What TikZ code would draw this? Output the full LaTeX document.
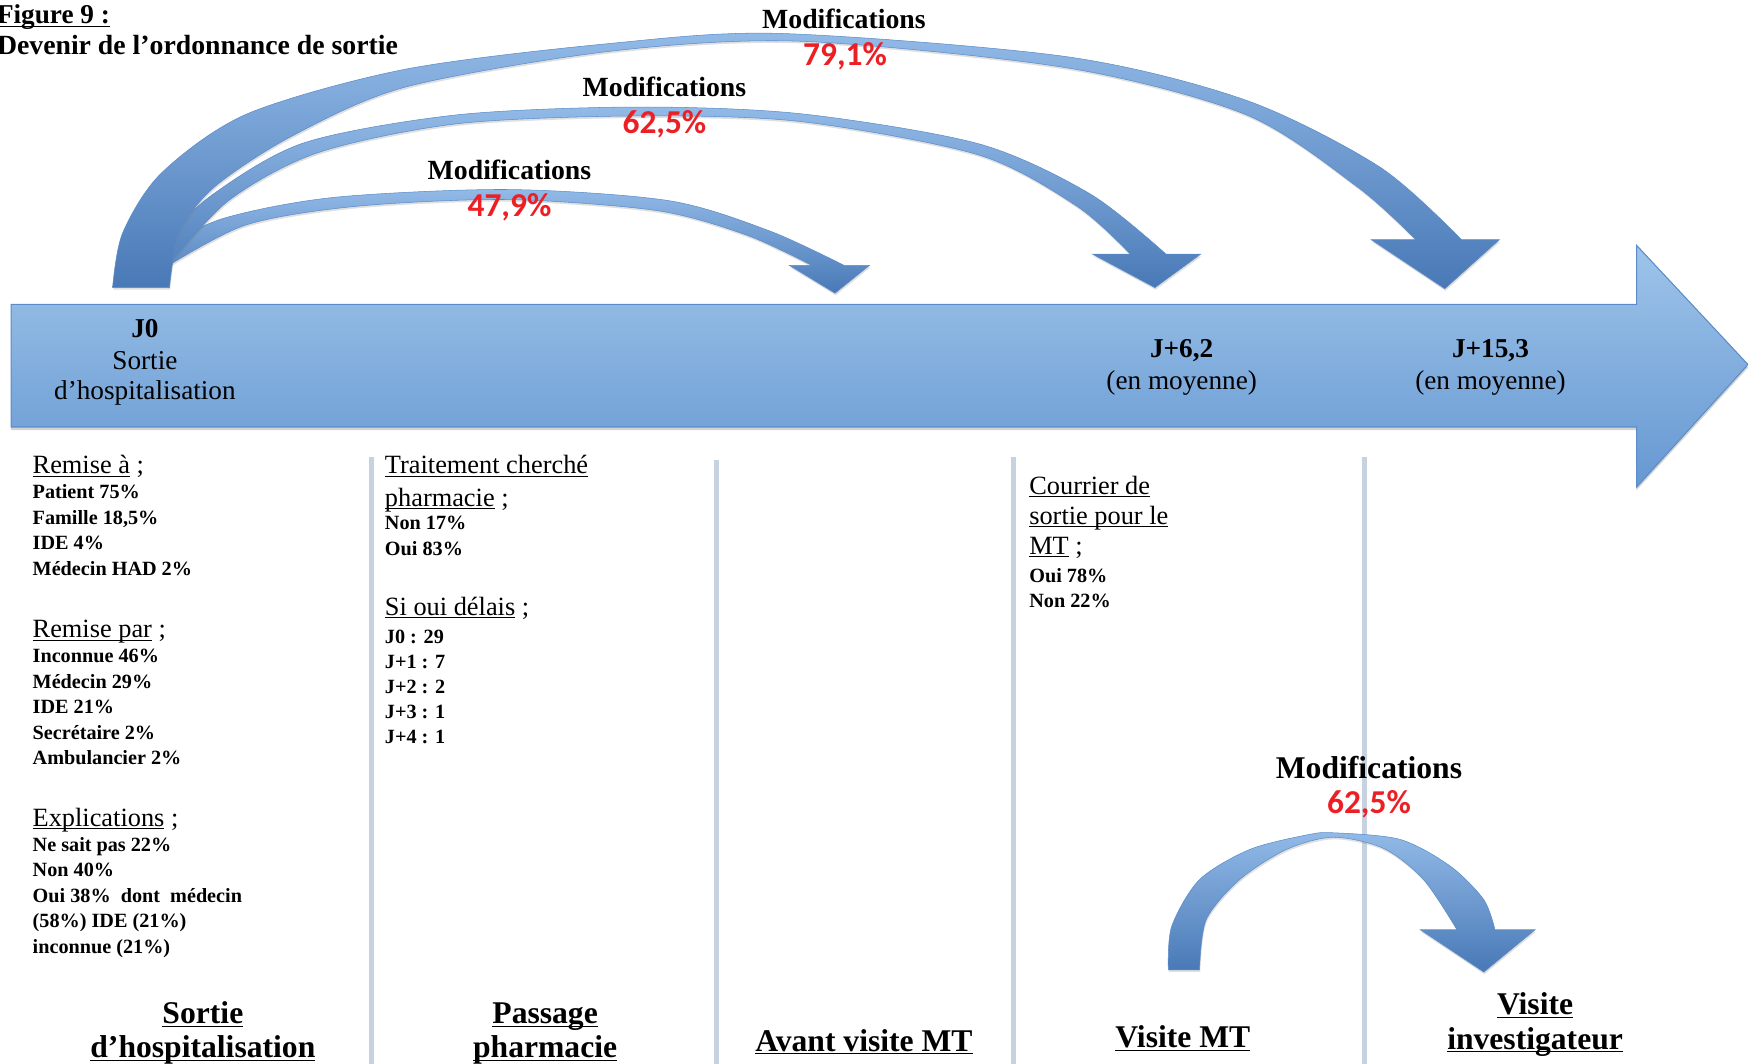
\documentclass[tikz,border=0pt]{standalone}
\usepackage{fontspec}
\setmainfont{Liberation Serif}
\newfontfamily\pctfont{Carlito}
\usetikzlibrary{shadows}
\definecolor{barlight}{RGB}{158,196,233}
\definecolor{bardark}{RGB}{102,152,210}
\definecolor{baredge}{RGB}{92,140,200}
\definecolor{arrlight}{RGB}{146,186,231}
\definecolor{arrdark}{RGB}{72,120,182}
\definecolor{sepline}{RGB}{198,210,224}
\definecolor{pctred}{RGB}{236,32,36}
\newcommand\undl[1]{\underline{\smash{#1}}}
\begin{document}
\begin{tikzpicture}[x=0.223mm,y=-0.223mm,
  hdr/.style={font=\fontsize{15}{18.3}\selectfont,anchor=base west,inner sep=0pt,align=left},
  dat/.style={font=\bfseries\fontsize{11.5}{14.5}\selectfont,anchor=base west,inner sep=0pt,align=left},
  phase/.style={font=\bfseries\fontsize{18}{19.6}\selectfont,anchor=base,inner sep=0pt,align=center},
  daylbl/.style={font=\fontsize{15.5}{17.7}\selectfont,anchor=base,inner sep=0pt,align=center},
  modlbl/.style={font=\bfseries\fontsize{15.8}{18}\selectfont,anchor=base,inner sep=0pt},
  pctlbl/.style={font=\pctfont\bfseries\fontsize{19}{20}\selectfont,text=pctred,anchor=base,inner sep=0pt},
  curved/.style={top color=arrlight,bottom color=arrdark,draw=baredge,line width=0.3pt,
    drop shadow={opacity=0.25,shadow xshift=0.4pt,shadow yshift=-1.2pt}},
  sep/.style={sepline,line width=3pt}]
\useasboundingbox (0,0) rectangle (1568,954);
%\draw[help lines] (0,0) grid[step=100] (1568,954);

% title
\node[anchor=base west,inner sep=0pt,font=\bfseries\fontsize{15.5}{17}\selectfont] (fig) at (-3,21) {\undl{Figure 9 :}};
\node[anchor=base west,inner sep=0pt,font=\bfseries\fontsize{15.8}{17}\selectfont] (figtitle) at (-3,49) {Devenir de l’ordonnance de sortie};

% time line
\shade[top color=barlight,bottom color=bardark,draw=baredge,line width=0.6pt,
  drop shadow={opacity=0.35,shadow xshift=0pt,shadow yshift=-1.8pt}]
  (10,273) -- (1468,273) -- (1468,220) -- (1568,327) -- (1468,437) -- (1468,383) -- (10,383) -- cycle;
\node[daylbl] (j0) at (130,303) {\bfseries J0};
\node[daylbl] (j0a) at (130,331) {Sortie};
\node[daylbl] (j0b) at (130,358) {d’hospitalisation};
\node[daylbl] (j6) at (1060,321) {\bfseries J+6,2};
\node[daylbl] (j6a) at (1060,349) {(en moyenne)};
\node[daylbl] (j15) at (1337,321) {\bfseries J+15,3};
\node[daylbl] (j15a) at (1337,349) {(en moyenne)};

% small arc
\shade[curved] plot[smooth] coordinates {(140,225) (200,196) (300,177) (456,170) (600,180) (690,207) (757,238)}
  -- (780,238) -- (749,263) -- (708,238) -- (728,238)
  -- plot[smooth] coordinates {(728,238) (670,211) (590,189) (456,179) (320,185) (220,202) (145,242)} -- cycle;
% middle arc
\shade[curved] plot[smooth] coordinates {(140,222) (190,175) (273,128) (410,103) (570,96) (718,102) (878,129) (978,174) (1046,228)}
  -- (1077,228) -- (1036,258) -- (980,228) -- (1014,228)
  -- plot[smooth] coordinates {(1014,228) (966,185) (878,139) (718,109) (570,104) (410,111) (285,137) (205,180) (150,240)} -- cycle;
% big arc
\shade[curved] plot[smooth] coordinates {(101,258) (110,209) (145,155) (222,102) (364,62) (547,39) (700,30) (958,51) (1118,90) (1238,150) (1311,215)}
  -- (1345,215) -- (1296,259) -- (1230,215) -- (1270,215)
  -- plot[smooth] coordinates {(1270,215) (1218,168) (1118,103) (958,61) (718,37) (547,46) (364,78) (262,122) (192,168) (161,209) (152,258)} -- cycle;

\node[modlbl] (mod3) at (757,26) {Modifications};
\node[pctlbl] (pct3) at (758,59) {79,1\%};
\node[modlbl] (mod2) at (596,87) {Modifications};
\node[pctlbl] (pct2) at (596,120) {62,5\%};
\node[modlbl] (mod1) at (457,161) {Modifications};
\node[pctlbl] (pct1) at (457,194) {47,9\%};

% separators
\draw[sep] (333,410) -- (333,954);
\draw[sep] (643,413) -- (643,954);
\draw[sep] (909,410) -- (909,954);
\draw[sep] (1224,410) -- (1224,954);

% sortie (multi-line nodes sit on their last line)
\node[hdr] (remisea) at (29,425) {\undl{Remise à} ;};
\node[dat] (remiseadat) at (29,516) {Patient 75\%\\Famille 18,5\%\\IDE 4\%\\Médecin HAD 2\%};
\node[hdr] (remisepar) at (29,572) {\undl{Remise par} ;};
\node[dat] (remisepardat) at (29,686) {Inconnue 46\%\\Médecin 29\%\\IDE 21\%\\Secrétaire 2\%\\Ambulancier 2\%};
\node[hdr] (expl) at (29,741) {\undl{Explications} ;};
\node[dat] (expldat) at (29,855) {Ne sait pas 22\%\\Non 40\%\\Oui 38\%~ dont~ médecin\\(58\%) IDE (21\%)\\inconnue (21\%)};

% pharmacie
\node[hdr] (trait) at (345,454) {\undl{Traitement cherché}\\\undl{pharmacie} ;};
\node[dat] (traitdat) at (345,498) {Non 17\%\\Oui 83\%};
\node[hdr] (delais) at (345,552) {\undl{Si oui délais} ;};
\node[dat,font=\bfseries\fontsize{11.5}{14.2}\selectfont] (delaisdat) at (345,667) {J0 : 29\\J+1 : 7\\J+2 : 2\\J+3 : 1\\J+4 : 1};

% visite MT
\node[hdr,font=\fontsize{15}{17}\selectfont] (courrier) at (923,497) {\undl{Courrier de}\\\undl{sortie pour le}\\\undl{MT} ;};
\node[dat] (courrierdat) at (923,545) {Oui 78\%\\Non 22\%};

% last arc
\shade[curved] plot[smooth] coordinates {(1048,870) (1051,831) (1076,789) (1121,762) (1172,749) (1196,747) (1256,753) (1301,777) (1331,807) (1341,834)}
  -- (1377,834) -- (1331,872) -- (1274,834) -- (1307,834)
  -- plot[smooth] coordinates {(1307,834) (1277,789) (1241,761) (1196,751) (1154,762) (1112,789) (1082,825) (1076,870)} -- cycle;
\node[modlbl,font=\bfseries\fontsize{18}{19}\selectfont] (mod4) at (1228,698) {Modifications};
\node[pctlbl] (pct4) at (1228,730) {62,5\%};

% phases
\node[phase] (ph1) at (182,949) {\undl{Sortie}\\\undl{d’hospitalisation}};
\node[phase] (ph2) at (489,949) {\undl{Passage}\\\undl{pharmacie}};
\node[phase] (ph3) at (775,943) {\undl{Avant visite MT}};
\node[phase] (ph4) at (1061,940) {\undl{Visite MT}};
\node[phase] (ph5) at (1377,941) {\undl{Visite}\\\undl{investigateur}};
\end{tikzpicture}
\end{document}
